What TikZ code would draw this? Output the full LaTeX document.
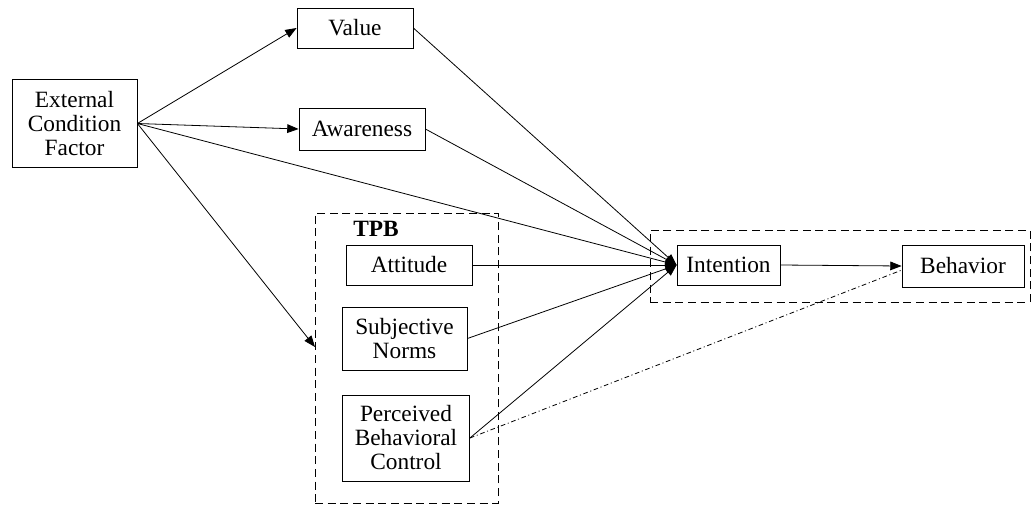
\documentclass[tikz,border=0pt]{standalone}
\usepackage{fontspec}
\setmainfont{Liberation Serif}
\usetikzlibrary{arrows.meta}
\begin{document}
\begin{tikzpicture}[x=0.75pt,y=-0.75pt,
  box/.style={draw,line width=0.6pt,inner sep=0pt,align=center,font=\fontsize{17.5}{18}\selectfont},
  grp/.style={draw,line width=0.6pt,dash pattern=on 6pt off 3.5pt,inner sep=0pt},
  arr/.style={line width=0.6pt,-{Triangle[length=8.5pt,width=6.5pt]}},
  dashdotline/.style={line width=0.6pt,dash pattern=on 3.5pt off 2pt on 0.8pt off 2pt}]
\useasboundingbox (0,0) rectangle (1032,507);
% group boxes
\node[grp,minimum width=183*0.75pt,minimum height=290*0.75pt] (tpb) at (406.5,358) {};
\node[grp,minimum width=380*0.75pt,minimum height=72*0.75pt] (grpint) at (840,266) {};
\node[font=\fontsize{17.5}{18}\selectfont\bfseries] (tpblabel) at (376,229) {TPB};
% nodes
\node[box,minimum width=125*0.75pt,minimum height=88*0.75pt] (ecf) at (74.5,123.5) {External\\Condition\\Factor};
\node[box,minimum width=116*0.75pt,minimum height=40*0.75pt] (value) at (355,28) {Value};
\node[box,minimum width=126*0.75pt,minimum height=42*0.75pt] (aware) at (362,129) {Awareness};
\node[box,minimum width=126*0.75pt,minimum height=40*0.75pt] (att) at (409,265) {Attitude};
\node[box,minimum width=125*0.75pt,minimum height=63*0.75pt] (sn) at (404.5,338.5) {Subjective\\Norms};
\node[box,minimum width=127*0.75pt,minimum height=86*0.75pt] (pbc) at (406,438) {Perceived\\Behavioral\\Control};
\node[box,minimum width=103*0.75pt,minimum height=40*0.75pt] (int) at (728.5,265) {Intention};
\node[box,minimum width=122*0.75pt,minimum height=42*0.75pt] (beh) at (963,266) {Behavior};
\coordinate (tpbin) at (315,347);
\coordinate (behlow) at (902,270);
% connectors
\draw[arr] (ecf.east) -- (value.west);
\draw[arr] (ecf.east) -- (aware.west);
\draw[arr] (ecf.east) -- (tpbin);
\draw[arr] (ecf.east) -- (int.west);
\draw[arr] (value.east) -- (int.west);
\draw[arr] (aware.east) -- (int.west);
\draw[arr] (att.east) -- (int.west);
\draw[arr] (sn.east) -- (int.west);
\draw[arr] (pbc.east) -- (int.west);
\draw[arr] (int.east) -- (beh.west);
\draw[dashdotline] (pbc.east) -- (behlow);
\end{tikzpicture}
\end{document}
